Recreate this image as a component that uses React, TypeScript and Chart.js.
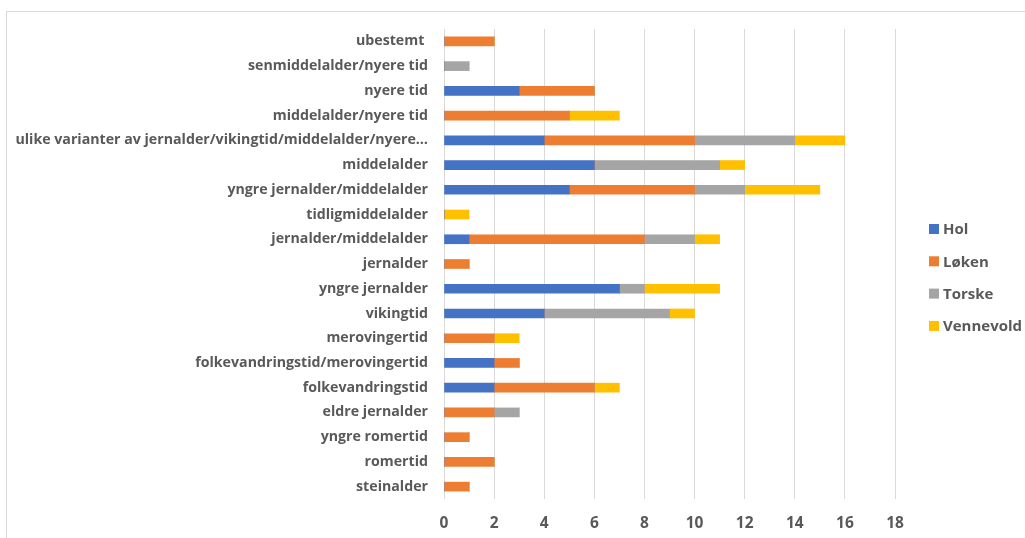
import React, { useEffect, useRef } from "react";
import { Chart, registerables } from "chart.js";

Chart.register(...registerables);

// Periods, listed top to bottom as drawn
const periods = [
  "ubestemt ",
  "senmiddelalder/nyere tid",
  "nyere tid",
  "middelalder/nyere tid",
  "ulike varianter av jernalder/vikingtid/middelalder/nyere…",
  "middelalder",
  "yngre jernalder/middelalder",
  "tidligmiddelalder",
  "jernalder/middelalder",
  "jernalder",
  "yngre jernalder",
  "vikingtid",
  "merovingertid",
  "folkevandringstid/merovingertid",
  "folkevandringstid",
  "eldre jernalder",
  "yngre romertid",
  "romertid",
  "steinalder",
];

// Counts per site, same order as periods
const hol = [0, 0, 3, 0, 4, 6, 5, 0, 1, 0, 7, 4, 0, 2, 2, 0, 0, 0, 0];
const loken = [2, 0, 3, 5, 6, 0, 5, 0, 7, 1, 0, 0, 2, 1, 4, 2, 1, 2, 1];
const torske = [0, 1, 0, 0, 4, 5, 2, 0, 2, 0, 1, 5, 0, 0, 0, 1, 0, 0, 0];
const vennevold = [0, 0, 0, 2, 2, 1, 3, 1, 1, 0, 3, 1, 1, 0, 1, 0, 0, 0, 0];

const xTicks = [0, 2, 4, 6, 8, 10, 12, 14, 16, 18];

const TEXT = "#595959";
const FONT = "'Open Sans', 'Noto Sans', sans-serif";

// Legend drawn at the right of the plot, one row per site
const sideLegend = {
  id: "sideLegend",
  afterDraw(chart: any) {
    const { ctx } = chart;
    ctx.save();
    ctx.font = `bold 15px ${FONT}`;
    ctx.textBaseline = "middle";
    ctx.textAlign = "left";
    chart.data.datasets.forEach((ds: any, i: number) => {
      const y = 229 + i * 32.3;
      ctx.fillStyle = ds.backgroundColor;
      ctx.fillRect(929, y - 5, 10, 10);
      ctx.fillStyle = TEXT;
      ctx.fillText(ds.label, 943, y + 1);
    });
    ctx.restore();
  },
};

export default function App() {
  const ref = useRef<HTMLCanvasElement>(null);

  useEffect(() => {
    if (!ref.current) return;
    const seg = (label: string, data: number[], color: string) => ({
      label,
      data,
      backgroundColor: color,
      borderWidth: 0,
      barThickness: 9,
    });
    const chart = new Chart(ref.current, {
      type: "bar",
      data: {
        labels: periods,
        datasets: [
          seg("Hol", hol, "#4472C4"),
          seg("Løken", loken, "#ED7D31"),
          seg("Torske", torske, "#A5A5A5"),
          seg("Vennevold", vennevold, "#FFC000"),
        ],
      },
      options: {
        indexAxis: "y",
        animation: false,
        responsive: false,
        layout: { padding: { top: 29, right: 130, left: 0, bottom: 0 } },
        plugins: {
          legend: { display: false },
          tooltip: { enabled: false },
        },
        scales: {
          x: {
            stacked: true,
            min: 0,
            max: 18,
            afterBuildTicks(scale: any) {
              scale.ticks = xTicks.map((v) => ({ value: v }));
            },
            afterFit(scale: any) {
              scale.height = 39;
            },
            grid: { color: "#D9D9D9", lineWidth: 1, drawTicks: false },
            border: { display: false },
            ticks: {
              color: TEXT,
              font: { family: FONT, size: 15.5, weight: "bold" },
              padding: 15,
            },
          },
          y: {
            stacked: true,
            afterFit(scale: any) {
              scale.width = 444;
            },
            grid: { display: false, drawTicks: false },
            border: { display: false },
            ticks: {
              color: TEXT,
              font: { family: FONT, size: 14.2, weight: "bold" },
              padding: 16,
              autoSkip: false,
            },
          },
        },
      },
      plugins: [sideLegend],
    } as any);
    return () => chart.destroy();
  }, []);

  return (
    <div style={{ position: "absolute", left: 0, top: 0, width: 1025, height: 538, background: "#fff" }}>
      <div
        style={{
          position: "absolute",
          left: 6,
          top: 11,
          width: 1030,
          height: 540,
          borderTop: "1px solid #D9D9D9",
          borderLeft: "1px solid #D9D9D9",
        }}
      />
      <canvas ref={ref} width={1025} height={538} style={{ position: "absolute", left: 0, top: 0 }} />
    </div>
  );
}
